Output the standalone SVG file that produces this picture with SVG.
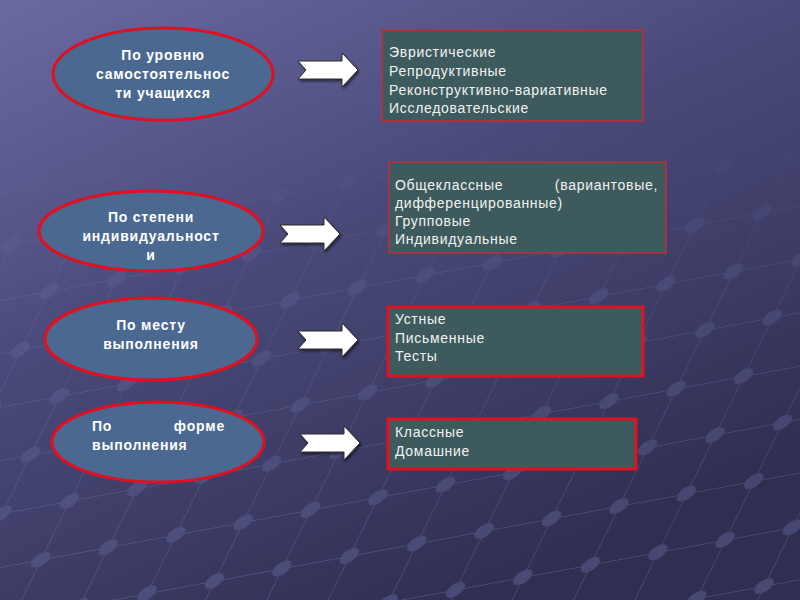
<svg xmlns="http://www.w3.org/2000/svg" width="800" height="600" viewBox="0 0 800 600">
<defs>
<linearGradient id="bg" x1="0" y1="0" x2="0.6" y2="1">
<stop offset="0" stop-color="#6a6aa2"/>
<stop offset="0.45" stop-color="#4a4a7a"/>
<stop offset="1" stop-color="#2f2f52"/>
</linearGradient>
<pattern id="grid" width="60" height="60" patternUnits="userSpaceOnUse" patternTransform="translate(0,140) skewX(-35) rotate(-12)">
<path d="M0 0H60M0 0V60" stroke="#8a8ac0" stroke-width="1.2" fill="none"/>
<circle cx="0" cy="0" r="8" fill="#6a6aa0"/>
<circle cx="60" cy="0" r="8" fill="#6a6aa0"/>
<circle cx="0" cy="60" r="8" fill="#6a6aa0"/>
<circle cx="60" cy="60" r="8" fill="#6a6aa0"/>
</pattern>
<linearGradient id="fade" x1="0" y1="0" x2="0" y2="1">
<stop offset="0" stop-color="#fff" stop-opacity="0"/>
<stop offset="0.35" stop-color="#fff" stop-opacity="0.3"/>
<stop offset="1" stop-color="#fff" stop-opacity="0.45"/>
</linearGradient>
<mask id="gm"><rect x="0" y="120" width="800" height="480" fill="url(#fade)"/></mask>
<filter id="sh" x="-10%" y="-10%" width="130%" height="140%">
<feDropShadow dx="1.5" dy="2" stdDeviation="0.8" flood-color="#000" flood-opacity="0.5"/>
</filter>
</defs>
<style>
.el{fill:#4a6890;stroke:#e01020;stroke-width:3}
.et{font-family:"Liberation Sans",Arial,sans-serif;font-weight:bold;font-size:14px;letter-spacing:0.8px;fill:#ffffff;text-anchor:middle}
.etl{font-family:"Liberation Sans",Arial,sans-serif;font-weight:bold;font-size:14px;letter-spacing:0.8px;fill:#ffffff}
.bx{fill:#3d5b5c;stroke:#c62a3a;stroke-width:1.5}
.bx2{fill:#3d5b5c;stroke:#e4101c;stroke-width:3}
.bt{font-family:"Liberation Sans",Arial,sans-serif;font-size:14px;letter-spacing:0.7px;fill:#f2f2f2}
.ar{fill:#ffffff;stroke:#2a2a2a;stroke-width:1;filter:url(#sh)}
</style>
<rect width="800" height="600" fill="url(#bg)"/>
<rect x="0" y="120" width="800" height="480" fill="url(#grid)" mask="url(#gm)"/>

<g id="connectors">
<polygon class="ar" points="298,61 342,61 342,53 358,70 342,87 342,79 298,79 306,70"/>
<polygon class="ar" points="280,225 324,225 324,217 340,234 324,251 324,243 280,243 288,234"/>
<polygon class="ar" points="298,331 342,331 342,323 358,340 342,357 342,349 298,349 306,340"/>
<polygon class="ar" points="300,434 344,434 344,426 360,443 344,460 344,452 300,452 308,443"/>
</g>

<g id="node1">
<ellipse class="el" cx="163" cy="74" rx="110" ry="46"/>
<text class="et" x="163" y="60">По уровню</text>
<text class="et" x="163" y="79">самостоятельнос</text>
<text class="et" x="163" y="98">ти учащихся</text>
</g>
<g id="node2">
<ellipse class="el" cx="151" cy="231" rx="112" ry="40"/>
<text class="et" x="151" y="222">По степени</text>
<text class="et" x="151" y="241">индивидуальност</text>
<text class="et" x="151" y="260">и</text>
</g>
<g id="node3">
<ellipse class="el" cx="151" cy="339" rx="106" ry="41"/>
<text class="et" x="151" y="330">По месту</text>
<text class="et" x="151" y="349">выполнения</text>
</g>
<g id="node4">
<ellipse class="el" cx="158" cy="442" rx="106" ry="40"/>
<text class="etl" x="92" y="431">По</text>
<text class="etl" x="225" y="431" text-anchor="end">форме</text>
<text class="etl" x="92" y="450">выполнения</text>
</g>

<g id="box1">
<rect class="bx" x="382" y="30" width="261" height="91"/>
<text class="bt" x="389" y="57">Эвристические</text>
<text class="bt" x="389" y="76">Репродуктивные</text>
<text class="bt" x="389" y="95">Реконструктивно-вариативные</text>
<text class="bt" x="389" y="113">Исследовательские</text>
</g>
<g id="box2">
<rect class="bx" x="389" y="162" width="277" height="91"/>
<text class="bt" x="395" y="190">Общеклассные</text>
<text class="bt" x="658" y="190" text-anchor="end">(вариантовые,</text>
<text class="bt" x="395" y="208">дифференцированные)</text>
<text class="bt" x="395" y="226">Групповые</text>
<text class="bt" x="395" y="244">Индивидуальные</text>
</g>
<g id="box3">
<rect class="bx2" x="388" y="307" width="255" height="69"/>
<text class="bt" x="395" y="324">Устные</text>
<text class="bt" x="395" y="343">Письменные</text>
<text class="bt" x="395" y="361">Тесты</text>
</g>
<g id="box4">
<rect class="bx2" x="388" y="419" width="248" height="50"/>
<text class="bt" x="395" y="437">Классные</text>
<text class="bt" x="395" y="456">Домашние</text>
</g>
</svg>
